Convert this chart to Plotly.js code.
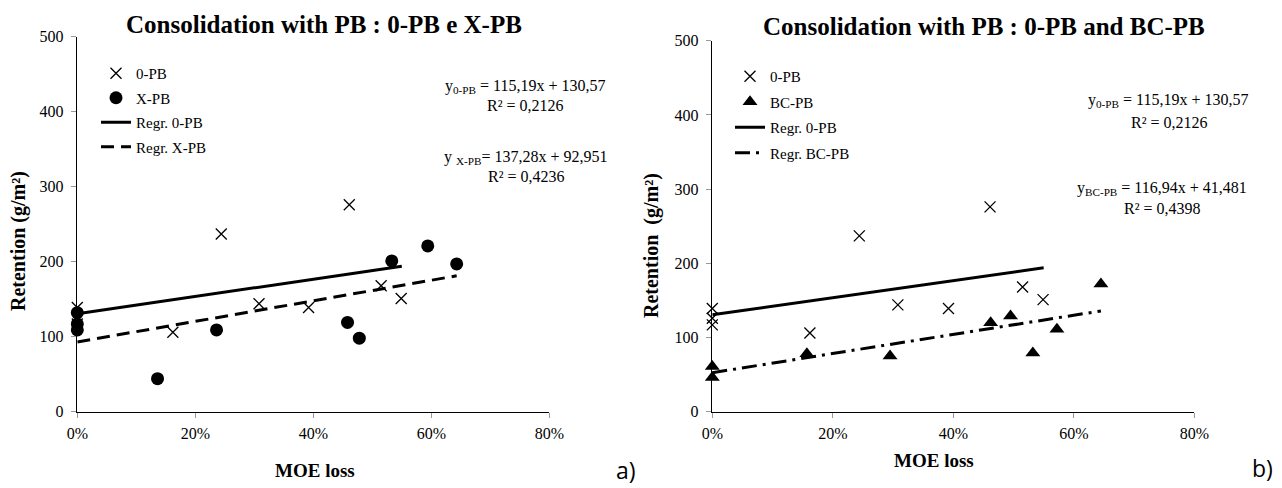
<!DOCTYPE html>
<html>
<head>
<meta charset="utf-8">
<script src="https://cdn.plot.ly/plotly-3.0.1.min.js"></script>
<style>html,body{margin:0;padding:0;background:#fff;}#chart{width:1282px;height:488px;}</style>
</head>
<body>
<div id="chart"></div>
<script>
// ---- data (MOE loss as fraction, retention in g/m²) ----
const moe0PB = [0, 0, 0, 0.162, 0.244, 0.308, 0.392, 0.461, 0.515, 0.549];
const ret0PB = [139, 126, 117, 106, 237, 144, 139, 276, 168, 151];

const moeXPB = [0, 0, 0, 0.136, 0.236, 0.458, 0.478, 0.533, 0.594, 0.643];
const retXPB = [132, 117, 109, 44, 109, 119, 98, 201, 221, 197];

const moeBCPB = [0, 0, 0.157, 0.295, 0.462, 0.495, 0.532, 0.572, 0.645];
const retBCPB = [61, 46, 78, 75, 120, 129, 79, 111, 172];

// regression lines (end points as drawn)
const regr0X = [0, 0.55];
const regr0Y = [130.6, 193.9];
const regrXX = [0, 0.643];
const regrXY = [93.0, 181.2];
const regrBCX = [0, 0.645];
const regrBCY = [52.6, 135.8];

const xTickVals = [0, 0.2, 0.4, 0.6, 0.8];
const xTickText = ['0%', '20%', '40%', '60%', '80%'];
const yTickVals = [0, 100, 200, 300, 400, 500];

const titleA = 'Consolidation with PB : 0-PB e X-PB';
const titleB = 'Consolidation with PB : 0-PB and BC-PB';
const eqA1 = 'y<sub>0-PB</sub> = 115,19x + 130,57';
const eqA1r = 'R² = 0,2126';
const eqA2 = 'y <sub>X-PB</sub>= 137,28x + 92,951';
const eqA2r = 'R² = 0,4236';
const eqB1 = 'y<sub>0-PB</sub> = 115,19x + 130,57';
const eqB1r = 'R² = 0,2126';
const eqB2 = 'y<sub>BC-PB</sub> = 116,94x + 41,481';
const eqB2r = 'R² = 0,4398';

// ---- drawing ----
const SERIF = 'Liberation Serif, Times New Roman, serif';
const W = 1282, H = 488;
const px = v => v / W;
const py = v => 1 - v / H;

const xMark = () => ({symbol: 'x-thin-open', size: 11, color: '#000', line: {width: 1.3, color: '#000'}});

const traces = [
  {x: moe0PB, y: ret0PB, type: 'scatter', mode: 'markers', name: '0-PB', marker: xMark(),
   xaxis: 'x', yaxis: 'y', legend: 'legend', legendgroup: 'a1', cliponaxis: false},
  {x: moeXPB, y: retXPB, type: 'scatter', mode: 'markers', name: 'X-PB',
   marker: {symbol: 'circle', size: 13, color: '#000'},
   xaxis: 'x', yaxis: 'y', legend: 'legend', legendgroup: 'a2', cliponaxis: false},
  {x: regr0X, y: regr0Y, type: 'scatter', mode: 'lines', name: 'Regr. 0-PB',
   line: {color: '#000', width: 3},
   xaxis: 'x', yaxis: 'y', legend: 'legend', legendgroup: 'a3', cliponaxis: false},
  {x: regrXX, y: regrXY, type: 'scatter', mode: 'lines', name: 'Regr. X-PB',
   line: {color: '#000', width: 3, dash: '13px,7px'},
   xaxis: 'x', yaxis: 'y', legend: 'legend', legendgroup: 'a4', cliponaxis: false},

  {x: moe0PB, y: ret0PB, type: 'scatter', mode: 'markers', name: '0-PB', marker: xMark(),
   xaxis: 'x2', yaxis: 'y2', legend: 'legend2', legendgroup: 'b1', cliponaxis: false},
  {x: moeBCPB, y: retBCPB, type: 'scatter', mode: 'markers', name: 'BC-PB',
   marker: {symbol: 'triangle-up', size: 13, color: '#000'},
   xaxis: 'x2', yaxis: 'y2', legend: 'legend2', legendgroup: 'b2', cliponaxis: false},
  {x: regr0X, y: regr0Y, type: 'scatter', mode: 'lines', name: 'Regr. 0-PB',
   line: {color: '#000', width: 3},
   xaxis: 'x2', yaxis: 'y2', legend: 'legend2', legendgroup: 'b3', cliponaxis: false},
  {x: regrBCX, y: regrBCY, type: 'scatter', mode: 'lines', name: 'Regr. BC-PB',
   line: {color: '#000', width: 3, dash: '15px,6px,3px,6px'},
   xaxis: 'x2', yaxis: 'y2', legend: 'legend2', legendgroup: 'b4', cliponaxis: false}
];

function xAxis(domain, anchor) {
  return {domain: domain, anchor: anchor, range: [0, 0.8], tickmode: 'array',
    tickvals: xTickVals.slice(), ticktext: xTickText.slice(),
    showline: true, linecolor: '#000', linewidth: 1.5, ticks: 'outside', ticklen: 5, tickcolor: '#999',
    tickwidth: 1, showgrid: false, zeroline: false, fixedrange: true, ticklabelstandoff: 2,
    tickfont: {family: SERIF, size: 16, color: '#000'}};
}
function yAxis(domain, anchor) {
  return {domain: domain, anchor: anchor, range: [0, 500], tickmode: 'array',
    tickvals: yTickVals.slice(), ticktext: yTickVals.map(String),
    showline: true, linecolor: '#000', linewidth: 1.5, ticks: 'outside', ticklen: 5, tickcolor: '#999',
    tickwidth: 1, showgrid: false, zeroline: false, fixedrange: true, ticklabelstandoff: 4,
    tickfont: {family: SERIF, size: 16, color: '#000'}};
}

const eqFont = () => ({family: SERIF, size: 16, color: '#000'});
const boldFont = s => ({family: SERIF, size: s, color: '#000', weight: 'bold'});
function ann(text, x, y, font, extra) {
  return Object.assign({text: text, x: px(x), y: py(y), xref: 'paper', yref: 'paper',
    showarrow: false, font: font, xanchor: 'center', yanchor: 'middle'}, extra || {});
}

const annotations = [
  ann(titleA, 324, 24, boldFont(25)),
  ann(titleB, 984, 26, boldFont(25)),
  ann('Retention (g/m²)', 18, 241, boldFont(20), {textangle: -90}),
  ann('Retention  (g/m²)', 652, 246, boldFont(20), {textangle: -90}),
  ann('MOE loss', 315, 470, boldFont(19)),
  ann('MOE loss', 934, 460, boldFont(19)),
  ann(eqA1, 525, 86, eqFont()),
  ann(eqA1r, 525, 106, eqFont()),
  ann(eqA2, 526, 157, eqFont()),
  ann(eqA2r, 526, 177, eqFont()),
  ann(eqB1, 1168, 101, eqFont()),
  ann(eqB1r, 1169, 123, eqFont()),
  ann(eqB2, 1162, 188, eqFont()),
  ann(eqB2r, 1162, 208, eqFont()),
  ann('a)', 626, 470, {family: 'Open Sans', size: 23, color: '#000'}),
  ann('b)', 1262, 468, {family: 'Open Sans', size: 23, color: '#000'})
];

const layout = {
  width: W, height: H,
  margin: {l: 0, r: 0, t: 0, b: 0},
  font: {family: SERIF, size: 15, color: '#000'},
  paper_bgcolor: '#fff', plot_bgcolor: '#fff',
  showlegend: true,
  xaxis: xAxis([px(77.3), px(549.3)], 'y'),
  yaxis: yAxis([1 - 411.7 / H, 1 - 36.7 / H], 'x'),
  xaxis2: xAxis([px(712.3), px(1194.3)], 'y2'),
  yaxis2: yAxis([1 - 411.7 / H, 1 - 40.7 / H], 'x2'),
  legend: {x: px(96), y: py(57), xanchor: 'left', yanchor: 'top', font: {family: SERIF, size: 15, color: '#000'},
    bgcolor: 'rgba(0,0,0,0)', borderwidth: 0, tracegroupgap: 2, itemclick: false, itemdoubleclick: false},
  legend2: {x: px(730), y: py(60), xanchor: 'left', yanchor: 'top', font: {family: SERIF, size: 15, color: '#000'},
    bgcolor: 'rgba(0,0,0,0)', borderwidth: 0, tracegroupgap: 3, itemclick: false, itemdoubleclick: false},
  annotations: annotations
};

Plotly.newPlot('chart', traces, layout, {displayModeBar: false, staticPlot: true});
</script>
</body>
</html>
